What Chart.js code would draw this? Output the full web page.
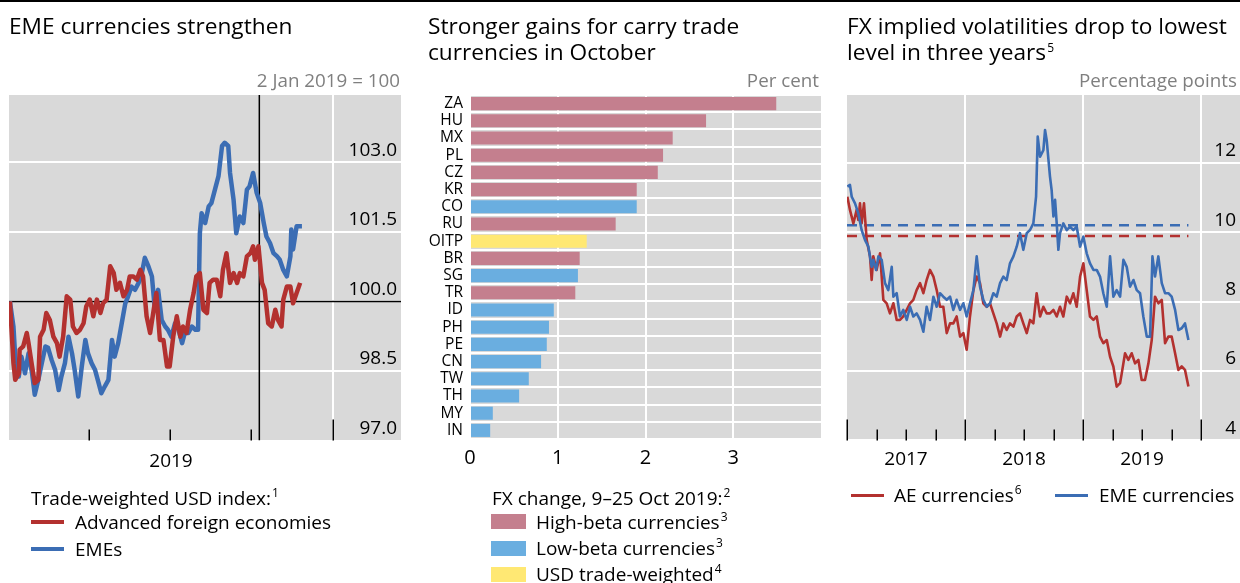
<!DOCTYPE html>
<html><head><meta charset="utf-8">
<script src="https://cdn.jsdelivr.net/npm/chart.js@4.4.0/dist/chart.umd.min.js"></script>
<style>
html,body{margin:0;padding:0;background:#fff}
body{width:1240px;height:583px;overflow:hidden;position:relative;font-family:"Open Sans",sans-serif;color:#000}
canvas{position:absolute;top:0}
.t{position:absolute;white-space:nowrap;line-height:26px}
.title{font-size:22.7px}
.unit{font-size:18.8px;color:#7f7f7f;line-height:22px}
.leg{font-size:19px}
.sup{font-size:12px;position:relative;top:-8px;margin-left:1px}
.ln{position:absolute;height:4px}
.box{position:absolute;width:35px;height:15px}
</style></head><body>
<div style="position:absolute;left:0;top:0;width:1240px;height:2px;background:#000"></div>
<canvas id="c1" width="410" height="583" style="left:0"></canvas>
<canvas id="c2" width="420" height="583" style="left:415px"></canvas>
<canvas id="c3" width="405" height="583" style="left:835px"></canvas>

<div class="t title" style="left:9px;top:13px">EME currencies strengthen</div>
<div class="t title" style="left:428px;top:13px">Stronger gains for carry trade<br>currencies in October</div>
<div class="t title" style="left:847px;top:13px">FX implied volatilities drop to lowest<br>level in three years<span class="sup">5</span></div>

<div class="t unit" style="right:840px;top:69px">2 Jan 2019 = 100</div>
<div class="t unit" style="right:421px;top:69px">Per cent</div>
<div class="t unit" style="right:3px;top:69px">Percentage points</div>

<div class="t leg" style="left:31px;top:485px">Trade-weighted USD index:<span class="sup">1</span></div>
<div class="ln" style="left:31px;top:520px;width:33px;background:#B3312F"></div>
<div class="t leg" style="left:75px;top:509px">Advanced foreign economies</div>
<div class="ln" style="left:31px;top:547px;width:33px;background:#3B6DB4"></div>
<div class="t leg" style="left:75px;top:536px">EMEs</div>

<div class="t leg" style="left:492px;top:485px">FX change, 9–25 Oct 2019:<span class="sup">2</span></div>
<div class="box" style="left:491px;top:514px;background:#C47F8E"></div>
<div class="t leg" style="left:536px;top:509px">High-beta currencies<span class="sup">3</span></div>
<div class="box" style="left:491px;top:541px;background:#6AAEE0"></div>
<div class="t leg" style="left:536px;top:535px">Low-beta currencies<span class="sup">3</span></div>
<div class="box" style="left:491px;top:567px;background:#FFE873"></div>
<div class="t leg" style="left:536px;top:561px">USD trade-weighted<span class="sup">4</span></div>

<div class="ln" style="left:851px;top:494px;width:33px;height:3px;background:#B3312F"></div>
<div class="t leg" style="left:894px;top:482px">AE currencies<span class="sup">6</span></div>
<div class="ln" style="left:1055px;top:494px;width:33px;height:3px;background:#3B6DB4"></div>
<div class="t leg" style="left:1099px;top:482px">EME currencies</div>

<script>
// ---------- Panel 1: trade-weighted USD index (days since 1 Jan 2019, 2 Jan 2019 = 100)
const afeDays = [1,5,7,11,12,16,20,22,26,29,33,35,39,42,46,50,54,57,61,65,69,72,76,80,84,87,91,95,99,103,106,110,114,118,121,125,129,133,136,140,144,148,151,155,159,163,166,170,174,178,181,185,189,193,196,200,204,208,211,215,219,223,226,230,234,238,241,245,249,253,257,260,264,268,272,275,277,281,285,288,292,296,300,303,307,309,313,317,320,324,328];
const afeVals = [100,98.67,98.31,98.45,98.96,99.03,99.32,99.1,98.6,98.24,98.31,99.24,99.39,99.75,99.6,99.24,99.1,98.81,99.24,100.11,100.04,99.46,99.32,99.39,99.53,99.89,100.04,99.68,100.04,99.75,99.96,100.04,100.76,100.61,100.25,100.4,100.11,100.25,100.54,100.54,100.47,100.68,100.54,99.68,99.32,99.82,100.18,99.17,99.17,98.6,98.6,99.24,99.68,99.24,99.46,99.32,99.82,100.18,100.54,100.61,99.82,99.75,100.4,100.47,100.47,100.11,100.68,101.04,100.4,100.61,100.4,100.61,100.54,100.97,101.04,101.19,100.9,101.19,100.4,100.25,99.53,99.46,99.82,99.6,99.46,100.04,100.32,100.32,99.96,100.18,100.4];
const emeDays = [1,5,7,11,14,18,22,26,29,33,37,41,44,48,52,56,59,63,67,71,74,78,82,86,89,93,97,101,104,108,112,116,119,123,127,131,134,138,142,146,149,153,157,161,164,168,172,176,179,183,187,191,195,198,202,206,210,213,215,217,221,225,228,232,236,240,243,247,249,253,256,260,264,268,271,275,279,283,287,290,294,298,302,305,309,313,317,318,320,324,328,330];
const emeVals = [100,99.46,98.81,98.38,98.81,98.45,98.88,98.45,97.99,98.31,98.67,99.03,99.0,98.74,98.52,98.09,98.38,98.67,99.24,98.88,98.52,97.95,98.6,99.17,98.88,98.67,98.52,98.24,98.02,98.17,98.31,99.17,98.81,99.1,99.53,99.96,100.1,100.32,100.25,100.4,100.54,100.94,100.76,100.54,99.89,100.25,99.6,99.46,99.39,99.24,99.53,99.39,99.1,99.32,99.32,99.46,99.39,99.39,101.47,101.9,101.69,102.05,102.12,102.41,102.7,103.35,103.42,103.35,102.77,102.19,101.47,101.83,101.69,102.41,102.48,102.77,102.34,102.12,101.69,101.4,101.26,101.04,100.97,100.9,100.68,100.54,100.97,101.55,101.12,101.62,101.62,101.62];
const usdTicks = [97.0, 98.5, 100.0, 101.5, 103.0];
const usdBase = 100;
const usdEventDay = 282;          // 9 Oct 2019
const usdYearLabels = ['2019'];
const usdYearMid = [182.5];
const usdQuarterDays = [90, 181, 273];
const usdYearEnds = [365];

// ---------- Panel 2: FX change, 9–25 Oct 2019 (per cent)
const fxCodes  = ['ZA','HU','MX','PL','CZ','KR','CO','RU','OITP','BR','SG','TR','ID','PH','PE','CN','TW','TH','MY','IN'];
const fxChange = [3.49,2.69,2.31,2.20,2.14,1.90,1.90,1.66,1.33,1.25,1.23,1.20,0.955,0.90,0.875,0.81,0.67,0.56,0.26,0.23];
const fxGroup  = ['high','high','high','high','high','high','low','high','usd','high','low','high','low','low','low','low','low','low','low','low'];
const fxTicks  = [0, 1, 2, 3];

// ---------- Panel 3: FX implied volatilities (decimal years)
const aeYears = [2017.003,2017.025,2017.054,2017.082,2017.096,2017.110,2017.124,2017.144,2017.167,2017.195,2017.209,2017.223,2017.251,2017.280,2017.308,2017.336,2017.364,2017.393,2017.421,2017.449,2017.477,2017.506,2017.534,2017.562,2017.590,2017.619,2017.647,2017.675,2017.703,2017.732,2017.760,2017.788,2017.816,2017.845,2017.873,2017.901,2017.929,2017.958,2017.986,2018.014,2018.042,2018.071,2018.099,2018.127,2018.155,2018.184,2018.212,2018.240,2018.268,2018.297,2018.325,2018.353,2018.381,2018.410,2018.438,2018.466,2018.494,2018.523,2018.551,2018.579,2018.607,2018.636,2018.664,2018.692,2018.720,2018.749,2018.777,2018.805,2018.833,2018.862,2018.890,2018.918,2018.946,2018.975,2019.003,2019.031,2019.059,2019.088,2019.116,2019.144,2019.172,2019.201,2019.229,2019.257,2019.285,2019.314,2019.328,2019.356,2019.384,2019.412,2019.441,2019.469,2019.497,2019.525,2019.554,2019.582,2019.610,2019.638,2019.667,2019.695,2019.723,2019.751,2019.780,2019.808,2019.836,2019.864,2019.893];
const aeVols = [11.02,10.64,10.25,10.64,10.35,10.83,10.25,10.83,9.77,9.3,8.62,9.3,8.91,9.39,8.05,7.95,7.66,7.95,7.47,7.47,7.57,7.76,7.95,8.05,8.33,8.53,8.24,8.62,8.91,8.72,8.33,7.85,7.85,7.09,7.37,7.37,7.57,6.99,7.09,6.61,7.57,8.33,8.72,8.53,7.95,7.85,7.95,7.66,7.37,6.99,7.37,7.18,7.37,7.28,7.57,7.66,7.37,7.09,7.47,7.37,8.24,7.57,7.85,7.66,7.66,7.76,7.57,7.85,7.57,8.14,7.95,8.24,7.85,8.72,9.1,8.33,7.57,7.47,7.57,6.99,6.8,6.89,6.41,6.13,5.55,5.65,5.93,6.51,6.32,6.51,6.22,6.32,5.74,5.74,6.22,6.89,8.14,7.95,8.05,6.8,6.99,6.99,6.51,6.03,6.13,6.03,5.55];
const emeVolYears = [2017.003,2017.025,2017.040,2017.068,2017.096,2017.124,2017.153,2017.181,2017.209,2017.223,2017.246,2017.266,2017.294,2017.322,2017.350,2017.379,2017.393,2017.421,2017.449,2017.477,2017.506,2017.534,2017.562,2017.590,2017.619,2017.647,2017.675,2017.703,2017.732,2017.760,2017.788,2017.816,2017.845,2017.873,2017.901,2017.929,2017.958,2017.986,2018.014,2018.042,2018.071,2018.099,2018.127,2018.155,2018.184,2018.212,2018.240,2018.268,2018.297,2018.325,2018.353,2018.381,2018.410,2018.438,2018.466,2018.494,2018.523,2018.551,2018.579,2018.602,2018.616,2018.636,2018.664,2018.678,2018.692,2018.720,2018.734,2018.749,2018.763,2018.777,2018.791,2018.805,2018.833,2018.862,2018.890,2018.918,2018.946,2018.975,2019.003,2019.031,2019.059,2019.088,2019.116,2019.144,2019.172,2019.201,2019.229,2019.257,2019.285,2019.314,2019.342,2019.370,2019.398,2019.427,2019.455,2019.483,2019.511,2019.540,2019.568,2019.588,2019.610,2019.638,2019.667,2019.695,2019.723,2019.751,2019.780,2019.808,2019.836,2019.864,2019.893];
const emeVols = [11.31,11.36,11.02,10.83,10.54,10.06,9.77,9.58,9.0,9.2,8.91,9.3,9.2,8.53,8.33,9.0,8.14,8.24,7.57,7.76,7.47,7.85,7.57,7.66,7.47,7.13,7.85,7.47,8.14,7.85,8.24,8.14,8.05,8.14,7.76,8.05,7.76,7.95,7.57,7.95,8.33,9.3,8.43,8.05,7.85,7.95,8.24,8.14,8.53,8.72,8.62,9.1,9.3,9.58,9.97,9.49,9.97,10.06,10.25,11.02,12.75,12.17,12.36,12.94,12.65,11.6,11.21,10.45,10.93,10.25,9.49,9.97,10.25,10.06,10.16,10.06,10.16,9.58,9.87,9.39,9.1,8.91,8.91,8.72,8.24,7.85,9.3,8.14,8.33,8.14,9.2,9.0,8.43,8.62,8.33,8.24,7.57,6.99,6.99,9.3,8.72,9.3,8.53,8.24,8.24,8.14,7.76,7.18,7.23,7.37,6.89];
const aeAverage = 9.89;
const emeAverage = 10.2;
const volTicks = [4, 6, 8, 10, 12];
const volYearLabels = ['2017','2018','2019'];
const volYearMid = [2017.5, 2018.5, 2019.5];
const volYearStarts = [2017, 2018, 2019, 2020];
const volQuarters = [2017.25,2017.5,2017.75,2018.25,2018.5,2018.75,2019.25,2019.5,2019.75];

// ---------- styling
const RED = '#B3312F', BLUE = '#3B6DB4', GREY = '#D9D9D9';
const GROUP_COLORS = {high: '#C47F8E', low: '#6AAEE0', usd: '#FFE873'};
const FONT = '"Open Sans", sans-serif';

const decor = {
  id: 'decor',
  beforeDraw(chart, args, o) {
    const {ctx, chartArea: a} = chart;
    ctx.save();
    ctx.fillStyle = GREY;
    ctx.fillRect(a.left, a.top, a.right - a.left, a.bottom - a.top);
    ctx.restore();
  },
  beforeDatasetsDraw(chart, args, o) {
    const {ctx, chartArea: a} = chart;
    const x = chart.scales.x;
    ctx.save();
    ctx.strokeStyle = '#fff'; ctx.lineWidth = 2;
    (o.vlines || []).forEach(v => {
      const px = Math.round(x.getPixelForValue(v));
      ctx.beginPath(); ctx.moveTo(px, a.top); ctx.lineTo(px, a.bottom); ctx.stroke();
    });
    ctx.strokeStyle = '#000'; ctx.lineWidth = 1.5;
    (o.major || []).forEach(v => {
      const px = Math.round(x.getPixelForValue(v)) + 0.25;
      ctx.beginPath(); ctx.moveTo(px, a.bottom); ctx.lineTo(px, a.bottom - 21); ctx.stroke();
    });
    (o.minor || []).forEach(v => {
      const px = Math.round(x.getPixelForValue(v)) + 0.25;
      ctx.beginPath(); ctx.moveTo(px, a.bottom); ctx.lineTo(px, a.bottom - 11); ctx.stroke();
    });
    ctx.restore();
  }
};

const pts = (xs, ys) => xs.map((v, i) => ({x: v, y: ys[i]}));
const base = {responsive: false, animation: false, devicePixelRatio: 1, events: []};
const lineDs = (data, color, w, order, dash) => ({data, borderColor: color, borderWidth: w, pointRadius: 0, tension: 0, fill: false, order, borderDash: dash || [], borderCapStyle: 'butt', borderJoinStyle: 'round'});

// Panel 1
const usdXMax = 441.6, usdYMin = 97, usdYMax = 104.45;
new Chart(document.getElementById('c1'), {
  type: 'line',
  data: {datasets: [
    lineDs(pts(afeDays, afeVals), RED, 4.5, 1),
    lineDs(pts(emeDays, emeVals), BLUE, 4.5, 2),
    lineDs([{x: 0, y: usdBase}, {x: usdXMax, y: usdBase}], '#000', 1.5, 3),
    lineDs([{x: usdEventDay, y: usdYMin}, {x: usdEventDay, y: usdYMax}], '#000', 1.5, 3)
  ]},
  options: {...base,
    layout: {padding: {left: 9, right: 9, top: 95, bottom: 111.4}},
    plugins: {legend: {display: false}, tooltip: {enabled: false},
      decor: {vlines: usdYearEnds, major: usdYearEnds, minor: usdQuarterDays}},
    scales: {
      x: {type: 'linear', min: 0, max: usdXMax,
        afterBuildTicks: s => { s.ticks = usdYearMid.map(v => ({value: v})); },
        ticks: {callback: (v, i) => usdYearLabels[i], font: {family: FONT, size: 19}, color: '#000', padding: 2, maxRotation: 0, autoSkip: false},
        grid: {display: false}, border: {display: false},
        afterFit: s => { s.height = 31; }},
      y: {position: 'right', min: usdYMin, max: usdYMax,
        afterBuildTicks: s => { s.ticks = usdTicks.map(v => ({value: v})); },
        ticks: {mirror: true, padding: -4, labelOffset: -12, callback: v => v.toFixed(1), font: {family: FONT, size: 19}, color: '#000'},
        grid: {color: '#fff', lineWidth: 2, drawTicks: false}, border: {display: false},
        afterFit: s => { s.width = 0; }}
    }
  },
  plugins: [decor]
});

// Panel 2
new Chart(document.getElementById('c2'), {
  type: 'bar',
  data: {labels: fxCodes, datasets: [{data: fxChange, backgroundColor: fxGroup.map(g => GROUP_COLORS[g]), borderWidth: 0, barPercentage: 0.76, categoryPercentage: 1}]},
  options: {...base, indexAxis: 'y',
    layout: {padding: {left: 0, right: 14, top: 95, bottom: 113}},
    plugins: {legend: {display: false}, tooltip: {enabled: false}, decor: {}},
    scales: {
      x: {type: 'linear', min: 0, max: 4,
        afterBuildTicks: s => { s.ticks = fxTicks.map(v => ({value: v})); },
        ticks: {font: {family: FONT, size: 20}, color: '#000', padding: 7, maxRotation: 0},
        grid: {color: '#fff', lineWidth: 2, drawTicks: false}, border: {display: false},
        afterFit: s => { s.height = 31; }},
      y: {ticks: {font: {family: FONT, size: 15.5}, color: '#000', padding: 7, autoSkip: false},
        grid: {color: '#fff', lineWidth: 2, drawTicks: false, offset: true}, border: {display: false},
        afterFit: s => { s.width = 55; }}
    }
  },
  plugins: [decor]
});

// Panel 3
const volXMin = 2017, volXMax = 2020.33, volYMin = 4, volYMax = 13.95;
const lastYear = aeYears[aeYears.length - 1];
new Chart(document.getElementById('c3'), {
  type: 'line',
  data: {datasets: [
    lineDs(pts(aeYears, aeVols), RED, 2.6, 2),
    lineDs(pts(emeVolYears, emeVols), BLUE, 2.6, 1),
    lineDs([{x: volXMin, y: aeAverage}, {x: lastYear, y: aeAverage}], RED, 2.6, 3, [10, 7]),
    lineDs([{x: volXMin, y: emeAverage}, {x: lastYear, y: emeAverage}], BLUE, 2.6, 3, [10, 7])
  ]},
  options: {...base,
    layout: {padding: {left: 12, right: 0, top: 95, bottom: 111.6}},
    plugins: {legend: {display: false}, tooltip: {enabled: false},
      decor: {vlines: volYearStarts.slice(1), major: volYearStarts, minor: volQuarters}},
    scales: {
      x: {type: 'linear', min: volXMin, max: volXMax,
        afterBuildTicks: s => { s.ticks = volYearMid.map(v => ({value: v})); },
        ticks: {callback: (v, i) => volYearLabels[i], font: {family: FONT, size: 19}, color: '#000', padding: 0, maxRotation: 0, autoSkip: false},
        grid: {display: false}, border: {display: false},
        afterFit: s => { s.height = 31; }},
      y: {position: 'right', min: volYMin, max: volYMax,
        afterBuildTicks: s => { s.ticks = volTicks.map(v => ({value: v})); },
        ticks: {mirror: true, padding: -4, labelOffset: -12, callback: v => String(v), font: {family: FONT, size: 19}, color: '#000'},
        grid: {color: '#fff', lineWidth: 2, drawTicks: false}, border: {display: false},
        afterFit: s => { s.width = 0; }}
    }
  },
  plugins: [decor]
});
</script>
</body></html>
